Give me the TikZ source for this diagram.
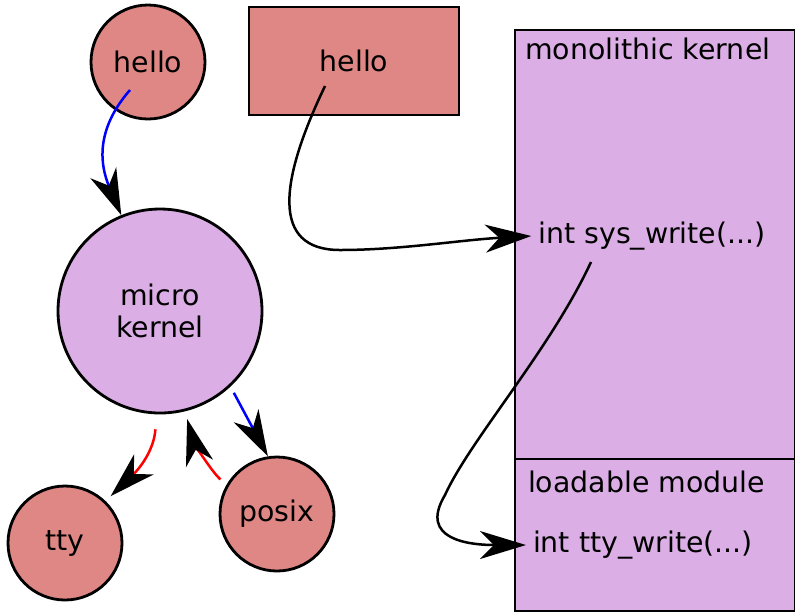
\documentclass[tikz,border=0pt]{standalone}
\usepackage{fontspec}
\setmainfont{DejaVu Sans}
\usepackage{tikz}
\usetikzlibrary{arrows.meta}

\definecolor{procred}{RGB}{222,135,132}
\definecolor{kernpurple}{RGB}{220,174,230}

\begin{document}
\begin{tikzpicture}[x=0.5pt, y=-0.5pt, font=\fontsize{14.2}{16}\selectfont,
    proc/.style={circle, draw, line width=1.4pt, fill=procred, minimum size=57pt, inner sep=0pt},
    box/.style={rectangle, draw, line width=1.4pt, fill=kernpurple, inner sep=0pt},
    link/.style={line width=1.25pt},
    >={Stealth[length=23pt, width=14pt, inset=7pt, color=black]}]
    \useasboundingbox (0,0) rectangle (795,612);

    % Microkernel side
    \node[proc] (helloA) at (148,62) {hello};
    \node[proc, fill=kernpurple, minimum size=102pt, align=center] (micro) at (160,311) {micro\\kernel};
    \node[proc] (tty) at (65,543) {tty};
    \node[proc] (posix) at (277,514) {posix};

    % Monolithic side
    \node[box, fill=procred, minimum width=105pt, minimum height=54pt] (helloB) at (354,61) {hello};
    \node[box, minimum width=140pt, minimum height=214.5pt] (mono) at (655,244.5) {};
    \node[box, minimum width=140pt, minimum height=76pt] (module) at (655,535) {};
    \node[anchor=north west, inner sep=0pt] (monotitle) at ([xshift=5.5pt, yshift=-4.5pt]mono.north west) {monolithic kernel};
    \node[anchor=north west, inner sep=0pt] (modtitle) at ([xshift=7pt, yshift=-6.5pt]module.north west) {loadable module};
    \node (syswrite) at (652,236) {int sys\_write(...)};
    \node (ttywrite) at (643,545) {int tty\_write(...)};

    % Messages through the microkernel
    \draw[link, blue, ->] ([shift={(-18,28)}]helloA.center) .. controls (95,130) and (100,165) .. (micro.112);
    \draw[link, blue, ->, shorten <=3.5pt] (micro.-47) -- (posix.99);
    \draw[link, red, ->, shorten <=7.5pt, shorten >=3.5pt] (micro.-92) .. controls (154,450) and (140,468) .. (tty.46);
    \draw[link, red, ->, shorten <=4pt, shorten >=4pt] (posix.150) .. controls (210,470) and (193,440) .. (micro.-76);

    % System calls in the monolithic kernel
    \draw[link, ->] ([shift={(-29,25)}]helloB.center) .. controls (280,180) and (270,250) .. (340,250)
        .. controls (400,250) and (460,240) .. (syswrite.west);
    \draw[link, ->] ([shift={(-61,26)}]syswrite.center) .. controls (550,350) and (470,440) .. (445,495)
        .. controls (418,540) and (470,545) .. (ttywrite.west);
\end{tikzpicture}
\end{document}
